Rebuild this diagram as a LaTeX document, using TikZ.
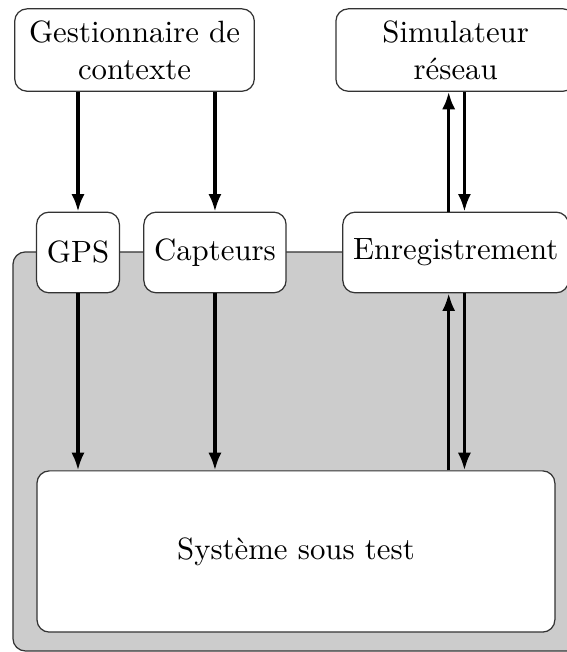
\documentclass[tikz,border=0pt]{standalone}
\usepackage{tikz}
\usetikzlibrary{arrows.meta}

\begin{document}
\begin{tikzpicture}[>=Latex,
  blk/.style={draw=black!80,rounded corners,fill=white,align=center,inner sep=3.33pt},
  wide/.style={blk,text width=2.5cm,minimum height=0.94cm},
  tall/.style={blk,minimum height=0.92cm},
  arr/.style={-{Latex[length=2mm]},line width=1pt}]
\clip (0,0) rectangle (6.47,-7.44);
% system under test area
\draw[draw=black!80,fill=black!20,rounded corners] (0.148,-2.875) rectangle (7.2,-7.428);
\node[wide] (ctx) at (1.535,-0.571) {Gestionnaire de\\contexte};
\node[wide] (sim) at (5.2,-0.571) {Simulateur\\réseau};
\node[tall] (gps) at (0.890,-2.881) {GPS};
\node[tall] (cap) at (2.453,-2.881) {Capteurs};
\node[tall] (enr) at (5.2,-2.881) {Enregistrement};
\node[blk,minimum width=5.91cm,minimum height=1.84cm] (sut) at (3.377,-6.293) {Système sous test};
\draw[arr] (ctx.south -| gps.north)--(gps.north);
\draw[arr] (ctx.south -| cap.north)--(cap.north);
\draw[arr] (gps.south)--(gps.south |- sut.north);
\draw[arr] (cap.south)--(cap.south |- sut.north);
\draw[arr] ([xshift=-0.08cm]enr.north)--([xshift=-0.08cm]sim.south);
\draw[arr] ([xshift=0.1cm]sim.south)--([xshift=0.1cm]enr.north);
\draw[arr] ([xshift=-0.08cm]enr.south |- sut.north)--([xshift=-0.08cm]enr.south);
\draw[arr] ([xshift=0.1cm]enr.south)--([xshift=0.1cm]enr.south |- sut.north);
\end{tikzpicture}
\end{document}
